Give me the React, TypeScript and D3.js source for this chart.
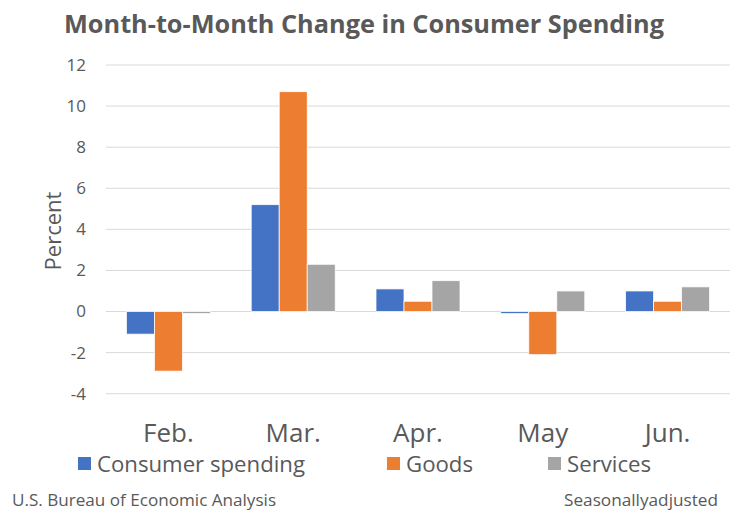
import React from "react";
import * as d3 from "d3";

const months = ["Feb.", "Mar.", "Apr.", "May", "Jun."];
const seriesNames = ["Consumer spending", "Goods", "Services"];
const consumerSpending = [-1.1, 5.2, 1.1, -0.1, 1.0];
const goods = [-2.9, 10.7, 0.5, -2.1, 0.5];
const services = [-0.1, 2.3, 1.5, 1.0, 1.2];
const colors = ["#4472C4", "#ED7D31", "#A5A5A5"];
const yTicks = [-4, -2, 0, 2, 4, 6, 8, 10, 12];

const W = 735;
const H = 512;
const FONT = "'Open Sans', 'DejaVu Sans', sans-serif";
const TEXT = "#595959";

export default function App() {
  const seriesValues = [consumerSpending, goods, services];
  const x = d3.scaleBand<string>().domain(months).range([106, 730]).paddingInner(0).paddingOuter(0);
  const groupW = x.bandwidth() * 0.673;
  const xs = d3
    .scaleBand<string>()
    .domain(seriesNames)
    .range([0, groupW]);
  const y = d3.scaleLinear().domain([-4, 12]).range([393.7, 65]);

  const legendX = [78, 387, 548];

  return (
    <svg
      width={W}
      height={H}
      style={{ position: "absolute", left: 0, top: 0, background: "#fff" }}
      fontFamily={FONT}
    >
      <rect x={0} y={0} width={W} height={H} fill="#fff" />
      <text x={64} y={33} fontSize={25.3} fontWeight="bold" fill={TEXT}>
        Month-to-Month Change in Consumer Spending
      </text>
      {yTicks.map((t) => (
        <g key={t}>
          <line x1={106} x2={730} y1={y(t)} y2={y(t)} stroke="#D9D9D9" strokeWidth={1} />
          <text x={86} y={y(t)} dy="0.35em" textAnchor="end" fontSize={17} fill={TEXT}>
            {t}
          </text>
        </g>
      ))}
      <text
        transform={`translate(61, 231) rotate(-90)`}
        textAnchor="middle"
        fontSize={22}
        fill={TEXT}
      >
        Percent
      </text>
      {months.map((m, i) => {
        const gx = (x(m) as number) + (x.bandwidth() - groupW) / 2;
        return (
          <g key={m}>
            {seriesNames.map((s, j) => {
              const v = seriesValues[j][i];
              const y0 = y(Math.max(0, v));
              const y1 = y(Math.min(0, v));
              return (
                <rect
                  key={s}
                  x={gx + (xs(s) as number)}
                  y={y0}
                  width={xs.bandwidth()}
                  height={Math.max(0, y1 - y0)}
                  fill={colors[j]}
                  stroke="#fff"
                  strokeWidth={0.75}
                />
              );
            })}
            <text
              x={(x(m) as number) + x.bandwidth() / 2}
              y={442}
              textAnchor="middle"
              fontSize={26}
              fill={TEXT}
            >
              {m}
            </text>
          </g>
        );
      })}
      {seriesNames.map((s, j) => (
        <g key={s}>
          <rect x={legendX[j]} y={457} width={13} height={13} fill={colors[j]} />
          <text x={legendX[j] + 19} y={472} fontSize={22.2} fill={TEXT}>
            {s}
          </text>
        </g>
      ))}
      <text x={12} y={506} fontSize={17.1} fill={TEXT}>
        U.S. Bureau of Economic Analysis
      </text>
      <text x={718} y={506} fontSize={17.2} textAnchor="end" fill={TEXT}>
        Seasonallyadjusted
      </text>
    </svg>
  );
}
